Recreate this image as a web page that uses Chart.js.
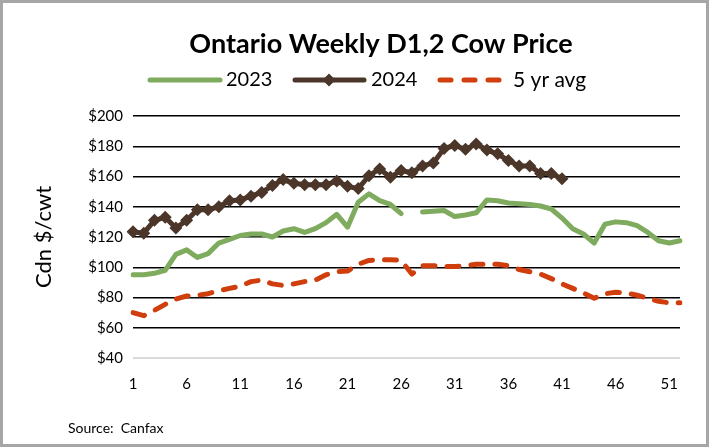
<!DOCTYPE html>
<html>
<head>
<meta charset="utf-8">
<script src="https://cdn.jsdelivr.net/npm/chart.js@4.4.1/dist/chart.umd.min.js"></script>
<style>
  html, body { margin: 0; padding: 0; background: #fff; }
  #wrap { position: relative; width: 709px; height: 447px; box-sizing: border-box; border: 3px solid #A6A6A6; background: #fff; }
  canvas { display: block; }
</style>
</head>
<body>
<div id="wrap"><canvas id="c" width="703" height="441"></canvas></div>
<script>
const chartTitle = 'Ontario Weekly D1,2 Cow Price';
const yAxisTitle = 'Cdn $/cwt';
const sourceText = 'Source:  Canfax';
const seriesNames = ['2023', '2024', '5 yr avg'];

const weeks = ['1','2','3','4','5','6','7','8','9','10','11','12','13','14','15','16','17','18','19','20','21','22','23','24','25','26','27','28','29','30','31','32','33','34','35','36','37','38','39','40','41','42','43','44','45','46','47','48','49','50','51','52'];

const price2023 = [95,95,96,98,108.5,111.5,106.5,109,116,118.5,121,122,122,120,124,125.5,123,125.5,129.5,135,126.5,143,148.5,144,141.5,135.5,null,136.5,137,137.5,133.5,134.5,136,144.5,144,142.5,142,141.5,140.5,138.5,132.5,125.5,122,116,128.5,130,129.5,127.5,123,117.5,116,117.5];

const price2024 = [123.5,122.5,131,133,126,131,138,138,140,144,144.5,147,149.5,154,158,155.5,154.5,154.5,154.5,157,153.5,152,160.5,165,159.5,164,162.5,167,169,178.5,180.5,178,181.5,177.5,175,170.5,167,167,162,162,158.5];

const avg5yr = [70,68,71.5,75.5,79,81,81.5,82.5,84.5,86,87.5,90.5,91.5,89,88,89,90.5,91.5,95,97,97.5,102,104.5,105,105,104.5,95.5,101,101,100.5,100.5,101,102,102,102,101,98.5,97,95.5,92.5,89,86,83,79.5,82.5,83.5,83,81.5,79.5,77.5,76.5,76.5];

const yMin = 40, yMax = 200, yStep = 20;

const GREEN = '#7FAB5E';
const BROWN = '#4B3629';
const RED = '#CF3E0C';
const FONT = 'Lato, "Open Sans", sans-serif';

const overlay = {
  id: 'overlay',
  afterDraw(chart) {
    const ctx = chart.ctx;
    ctx.save();
    // title
    ctx.fillStyle = '#000';
    ctx.font = 'bold 27px ' + FONT;
    ctx.textAlign = 'center';
    ctx.textBaseline = 'alphabetic';
    ctx.fillText(chartTitle, 378, 50);

    // legend
    const ly = 77;
    ctx.lineWidth = 5;
    ctx.lineCap = 'round';
    ctx.strokeStyle = GREEN;
    ctx.beginPath(); ctx.moveTo(147, ly); ctx.lineTo(217, ly); ctx.stroke();
    ctx.strokeStyle = BROWN;
    ctx.beginPath(); ctx.moveTo(292, ly); ctx.lineTo(361, ly); ctx.stroke();
    ctx.fillStyle = BROWN;
    ctx.beginPath();
    ctx.moveTo(326, ly - 6.5); ctx.lineTo(332.5, ly); ctx.lineTo(326, ly + 6.5); ctx.lineTo(319.5, ly); ctx.closePath(); ctx.fill();
    ctx.strokeStyle = RED;
    [[437, 448], [461, 472], [485, 496]].forEach(([a, b]) => {
      ctx.beginPath(); ctx.moveTo(a, ly); ctx.lineTo(b, ly); ctx.stroke();
    });
    ctx.fillStyle = '#000';
    ctx.font = '20px ' + FONT;
    ctx.textAlign = 'left';
    ctx.textBaseline = 'middle';
    ctx.fillText(seriesNames[0], 223, ly);
    ctx.fillText(seriesNames[1], 368, ly);
    ctx.font = '21px ' + FONT;
    ctx.fillText(seriesNames[2], 510, ly);

    // source
    ctx.font = '14px ' + FONT;
    ctx.fillText(sourceText, 65, 425);
    ctx.restore();
  }
};

new Chart(document.getElementById('c'), {
  type: 'line',
  data: {
    labels: weeks,
    datasets: [
      {
        label: seriesNames[0], data: price2023,
        borderColor: GREEN, backgroundColor: GREEN, borderWidth: 5,
        pointRadius: 0, tension: 0, spanGaps: false, borderJoinStyle: 'round', borderCapStyle: 'round'
      },
      {
        label: seriesNames[1], data: price2024,
        borderColor: BROWN, backgroundColor: BROWN, borderWidth: 5,
        pointStyle: 'rectRot', pointRadius: 6.5, pointBorderWidth: 0,
        pointBackgroundColor: BROWN, tension: 0, borderJoinStyle: 'round'
      },
      {
        label: seriesNames[2], data: avg5yr,
        borderColor: RED, backgroundColor: RED, borderWidth: 5,
        borderDash: [12, 12], borderCapStyle: 'round', borderJoinStyle: 'round',
        pointRadius: 0, tension: 0
      }
    ]
  },
  options: {
    responsive: false,
    animation: false,
    devicePixelRatio: 1,
    layout: { padding: { left: 0, right: 26, top: 113, bottom: 0 } },
    plugins: {
      legend: { display: false },
      title: { display: false },
      tooltip: { enabled: false }
    },
    scales: {
      x: {
        grid: { display: false, drawTicks: false },
        border: { display: false },
        ticks: {
          autoSkip: false, maxRotation: 0, minRotation: 0, padding: 17,
          color: '#000', font: { family: FONT, size: 15 },
          callback: function (v, i) { return i % 5 === 0 ? weeks[i] : ''; }
        },
        afterFit(scale) { scale.height = 86; }
      },
      y: {
        min: yMin, max: yMax,
        grid: {
          drawTicks: false,
          color: (c) => c.tick && c.tick.value === yMin ? '#D9D9D9' : '#000',
          lineWidth: (c) => c.tick && c.tick.value === yMin ? 2 : 1.5
        },
        border: { display: false },
        ticks: {
          stepSize: yStep, padding: 10, color: '#000',
          font: { family: FONT, size: 15 },
          callback: (v) => '$' + v
        },
        title: {
          display: true, text: yAxisTitle, color: '#000',
          font: { family: FONT, size: 22 },
          padding: { top: 28, bottom: 0 }
        },
        afterFit(scale) { scale.width = 130; }
      }
    }
  },
  plugins: [overlay]
});
</script>
</body>
</html>
